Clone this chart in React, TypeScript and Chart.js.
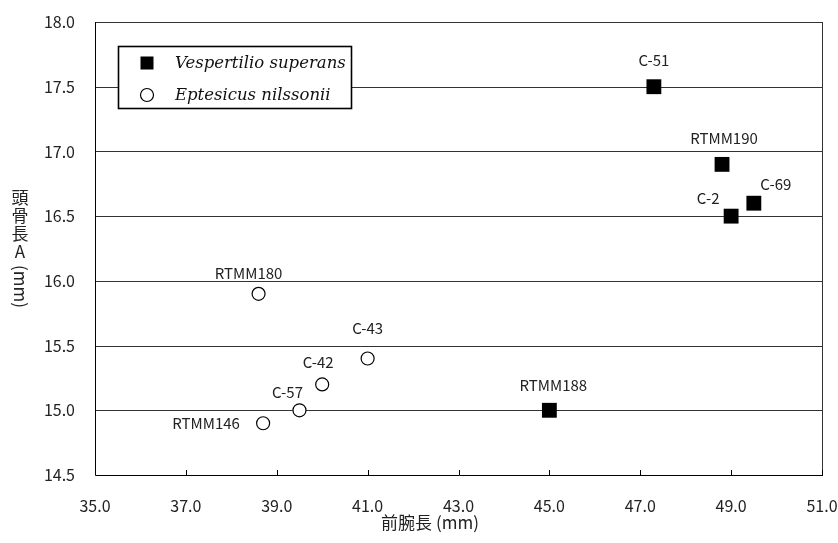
import React, { useEffect, useRef } from 'react';
import { Chart, registerables } from 'chart.js';

Chart.register(...registerables);

// ---- data ----
const seriesNames = ['Vespertilio superans', 'Eptesicus nilssonii'];
const vsForearm = [47.3, 48.8, 49.5, 49.0, 45.0];
const vsSkull = [17.5, 16.9, 16.6, 16.5, 15.0];
const vsLabels = ['C-51', 'RTMM190', 'C-69', 'C-2', 'RTMM188'];
const enForearm = [38.6, 41.0, 40.0, 39.5, 38.7];
const enSkull = [15.9, 15.4, 15.2, 15.0, 14.9];
const enLabels = ['RTMM180', 'C-43', 'C-42', 'C-57', 'RTMM146'];
const xAxisTitle = '前腕長 (mm)';
const yAxisTitleUpright = ['頭', '骨', '長', 'A'];
const yAxisTitleRotated = '(mm)';
const xMin = 35, xMax = 51, xStep = 2;
const yMin = 14.5, yMax = 18, yStep = 0.5;

// ---- styling: label offsets (label centre relative to the marker) ----
const labelOffsets: Record<string, [number, number]> = {
  'C-51': [0, -26],
  'RTMM190': [2, -26],
  'C-69': [22, -19],
  'C-2': [-23, -18],
  'RTMM188': [4, -25],
  'RTMM180': [-10, -21],
  'C-43': [0, -30],
  'C-42': [-4, -22],
  'C-57': [-12, -18],
  'RTMM146': [-57, 0],
};

const FONT = '"Noto Sans CJK JP", "Noto Sans", sans-serif';

function plotBox(chart: any) {
  const xs = chart.scales.x;
  const ys = chart.scales.y;
  return {
    l: Math.round(xs.getPixelForValue(xMin)),
    r: Math.round(xs.getPixelForValue(xMax)),
    t: Math.round(ys.getPixelForValue(yMax)),
    b: Math.round(ys.getPixelForValue(yMin)),
  };
}

const decorPlugin = {
  id: 'decor',
  beforeDatasetsDraw(chart: any) {
    const ctx = chart.ctx as CanvasRenderingContext2D;
    const ys = chart.scales.y;
    const xs = chart.scales.x;
    const { l, r, t, b } = plotBox(chart);
    ctx.save();
    ctx.lineWidth = 1;
    // horizontal gridlines
    ctx.strokeStyle = '#333';
    for (let v = yMin + yStep; v <= yMax + 1e-9; v += yStep) {
      const py = Math.round(ys.getPixelForValue(v)) + 0.5;
      ctx.beginPath();
      ctx.moveTo(l, py);
      ctx.lineTo(r + 1, py);
      ctx.stroke();
    }
    // right border
    ctx.beginPath();
    ctx.moveTo(r + 0.5, t);
    ctx.lineTo(r + 0.5, b);
    ctx.stroke();
    // left & bottom axes
    ctx.strokeStyle = '#000';
    ctx.beginPath();
    ctx.moveTo(l + 0.5, t);
    ctx.lineTo(l + 0.5, b + 0.5);
    ctx.lineTo(r + 1, b + 0.5);
    ctx.stroke();
    // inward x ticks
    for (let v = xMin; v <= xMax; v += xStep) {
      const px = Math.round(xs.getPixelForValue(v)) + 0.5;
      ctx.beginPath();
      ctx.moveTo(px, b);
      ctx.lineTo(px, b - 5);
      ctx.stroke();
    }
    ctx.restore();
  },
  afterDatasetsDraw(chart: any) {
    const ctx = chart.ctx as CanvasRenderingContext2D;
    const { t, b } = plotBox(chart);
    ctx.save();
    // data labels
    ctx.fillStyle = '#222';
    ctx.font = '15px ' + FONT;
    ctx.textAlign = 'center';
    ctx.textBaseline = 'middle';
    const labelSets = [vsLabels, enLabels];
    chart.data.datasets.forEach((ds: any, di: number) => {
      const meta = chart.getDatasetMeta(di);
      meta.data.forEach((pt: any, i: number) => {
        const text = labelSets[di][i];
        const off = labelOffsets[text] || [0, -24];
        ctx.fillText(text, pt.x + off[0], pt.y + off[1]);
      });
    });
    // legend box
    const lx = 118.5, ly = 46.5, lw = 233, lh = 62;
    ctx.fillStyle = '#fff';
    ctx.fillRect(lx, ly, lw, lh);
    ctx.strokeStyle = '#000';
    ctx.lineWidth = 1.6;
    ctx.strokeRect(lx, ly, lw, lh);
    // legend markers
    ctx.fillStyle = '#000';
    ctx.fillRect(147 - 6.5, 63 - 6.5, 13, 13);
    ctx.beginPath();
    ctx.arc(147, 95, 6.5, 0, Math.PI * 2);
    ctx.fillStyle = '#fff';
    ctx.fill();
    ctx.lineWidth = 1.2;
    ctx.strokeStyle = '#000';
    ctx.stroke();
    ctx.fillStyle = '#111';
    ctx.font = 'italic 16.5px "DejaVu Serif", "Liberation Serif", serif';
    ctx.textAlign = 'left';
    ctx.textBaseline = 'middle';
    ctx.fillText(chart.data.datasets[0].label, 175, 64);
    ctx.fillText(chart.data.datasets[1].label, 175, 96);
    // x axis title
    ctx.fillStyle = '#222';
    ctx.font = '17px ' + FONT;
    ctx.textAlign = 'center';
    ctx.fillText(xAxisTitle, 430, 523);
    // y axis title (vertical)
    const cy = (t + b) / 2;
    const step = 18;
    const rotW = ctx.measureText(yAxisTitleRotated).width;
    const total = yAxisTitleUpright.length * step + 4 + rotW;
    let y = cy - total / 2;
    const tx = 20;
    yAxisTitleUpright.forEach((ch) => {
      ctx.fillText(ch, tx, y + step / 2);
      y += step;
    });
    y += 4;
    ctx.save();
    ctx.translate(tx, y);
    ctx.rotate(Math.PI / 2);
    ctx.textAlign = 'left';
    ctx.fillText(yAxisTitleRotated, 0, 0);
    ctx.restore();
    ctx.restore();
  },
};

export default function App() {
  const ref = useRef<HTMLCanvasElement | null>(null);
  useEffect(() => {
    document.body.style.margin = '0';
    const canvas = ref.current!;
    const chart = new Chart(canvas, {
      type: 'scatter',
      data: {
        datasets: [
          {
            label: seriesNames[0],
            data: vsForearm.map((x, i) => ({ x, y: vsSkull[i] })),
            pointStyle: 'rect',
            pointRadius: 10.5,
            pointHoverRadius: 10.5,
            backgroundColor: '#000',
            borderColor: '#000',
            borderWidth: 0,
          },
          {
            label: seriesNames[1],
            data: enForearm.map((x, i) => ({ x, y: enSkull[i] })),
            pointStyle: 'circle',
            pointRadius: 6.5,
            pointHoverRadius: 6.5,
            backgroundColor: '#fff',
            borderColor: '#000',
            borderWidth: 1.2,
          },
        ],
      },
      options: {
        responsive: false,
        animation: false,
        events: [],
        layout: { padding: { top: 22, right: 16, left: 0, bottom: 0 } },
        plugins: { legend: { display: false }, tooltip: { enabled: false } },
        scales: {
          x: {
            type: 'linear',
            min: xMin,
            max: xMax,
            afterFit: (s: any) => { s.height = 68; s.paddingLeft = 0; s.paddingRight = 0; },
            ticks: {
              stepSize: xStep,
              padding: 13,
              color: '#222',
              font: { family: FONT, size: 16 },
              callback: (v: any) => Number(v).toFixed(1),
              maxRotation: 0,
            },
            grid: { display: false },
            border: { display: false },
          },
          y: {
            type: 'linear',
            min: yMin,
            max: yMax,
            afterFit: (s: any) => { s.width = 95; s.paddingTop = 0; s.paddingBottom = 0; },
            ticks: {
              stepSize: yStep,
              padding: 20,
              color: '#222',
              font: { family: FONT, size: 16 },
              callback: (v: any) => Number(v).toFixed(1),
            },
            grid: { display: false, drawTicks: false },
            border: { display: false },
          },
        },
      },
      plugins: [decorPlugin],
    });
    return () => chart.destroy();
  }, []);
  return (
    <div style={{ position: 'absolute', left: 0, top: 0, width: 838, height: 543, background: '#fff' }}>
      <canvas ref={ref} width={838} height={543} />
    </div>
  );
}
